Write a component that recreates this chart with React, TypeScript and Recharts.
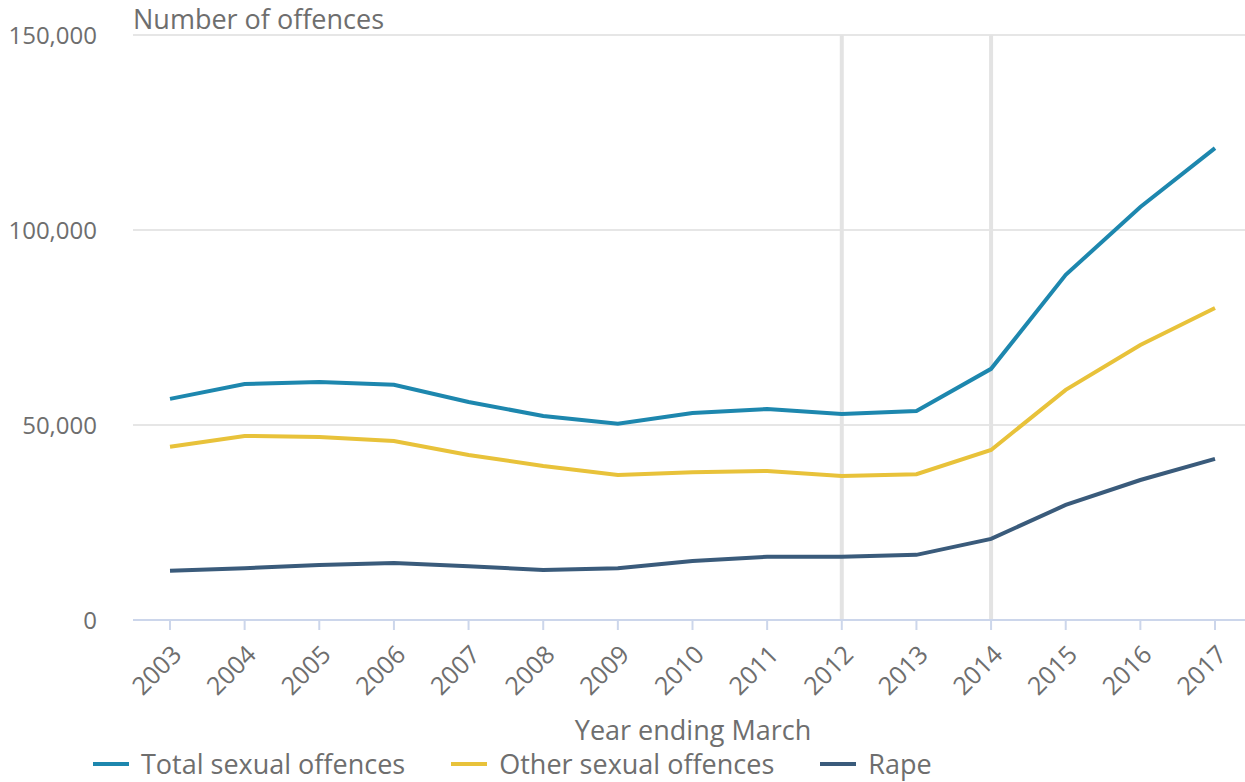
import { LineChart, Line, XAxis, YAxis, CartesianGrid, ReferenceLine, Legend } from 'recharts';

const years = ['2003', '2004', '2005', '2006', '2007', '2008', '2009', '2010', '2011', '2012', '2013', '2014', '2015', '2016', '2017'];
const totalSexual = [56700, 60500, 61000, 60300, 55900, 52300, 50300, 53100, 54100, 52800, 53600, 64400, 88500, 105900, 121000];
const otherSexual = [44400, 47200, 46900, 45900, 42300, 39500, 37200, 37900, 38200, 36900, 37400, 43600, 59000, 70500, 80000];
const rape = [12600, 13300, 14100, 14600, 13800, 12800, 13300, 15100, 16200, 16200, 16700, 20800, 29500, 35900, 41300];
const yTicks = [0, 50000, 100000, 150000];
const markerYears = ['2012', '2014'];

const SERIES = [
  { key: 'total', name: 'Total sexual offences', color: '#1d87ae' },
  { key: 'other', name: 'Other sexual offences', color: '#e8c23a' },
  { key: 'rape', name: 'Rape', color: '#3a5b7b' },
];

const TEXT = '#6e6e6e';
const FONT = '"Open Sans", sans-serif';

const data = years.map((year, i) => ({
  year,
  total: totalSexual[i],
  other: otherSexual[i],
  rape: rape[i],
}));

function YearTick({ x, y, payload }: any) {
  const ax = x + 6;
  const ay = y + 17;
  return (
    <text
      x={ax}
      y={ay}
      textAnchor="end"
      dominantBaseline="central"
      fill={TEXT}
      fontSize={25}
      fontFamily={FONT}
      transform={`rotate(-45 ${ax} ${ay})`}
    >
      {payload.value}
    </text>
  );
}

function LegendRow() {
  return (
    <div style={{ display: 'flex', height: 37, alignItems: 'center', paddingLeft: 93, fontFamily: FONT, fontSize: 27, color: TEXT }}>
      {SERIES.map((s) => (
        <div key={s.key} style={{ display: 'flex', alignItems: 'center', marginRight: 46 }}>
          <span style={{ display: 'inline-block', width: 36, height: 4, background: s.color, marginRight: 12 }} />
          <span>{s.name}</span>
        </div>
      ))}
    </div>
  );
}

export default function App() {
  return (
    <div style={{ position: 'absolute', left: 0, top: 0, width: 1245, height: 782, fontFamily: FONT, background: '#fff' }}>
      <div style={{ position: 'absolute', left: 133, top: 2, fontSize: 27, color: TEXT, lineHeight: '34px' }}>
        Number of offences
      </div>
      <LineChart width={1245} height={782} data={data} margin={{ top: 35, right: 0, left: 0, bottom: 0 }}>
        <CartesianGrid vertical={false} stroke="#e6e6e6" strokeWidth={2} />
        <XAxis
          dataKey="year"
          height={125}
          padding={{ left: 37, right: 30 }}
          stroke="#ccd6eb"
          strokeWidth={2}
          tickSize={10}
          tick={<YearTick />}
          interval={0}
          label={{ value: 'Year ending March', position: 'insideBottom', offset: 5, dx: 4, fill: TEXT, fontSize: 27, fontFamily: FONT }}
        />
        <YAxis
          width={133}
          domain={[0, 150000]}
          ticks={yTicks}
          axisLine={false}
          tickLine={false}
          tickSize={0}
          tickMargin={36}
          tick={{ fill: TEXT, fontSize: 24, fontFamily: FONT }}
          tickFormatter={(v: number) => v.toLocaleString('en-GB')}
        />
        {markerYears.map((yr) => (
          <ReferenceLine key={yr} x={yr} stroke="#e3e3e3" strokeWidth={4} />
        ))}
        <Legend verticalAlign="bottom" content={<LegendRow />} />
        {SERIES.map((s) => (
          <Line
            key={s.key}
            type="linear"
            dataKey={s.key}
            name={s.name}
            stroke={s.color}
            strokeWidth={4}
            dot={false}
            isAnimationActive={false}
          />
        ))}
      </LineChart>
    </div>
  );
}
